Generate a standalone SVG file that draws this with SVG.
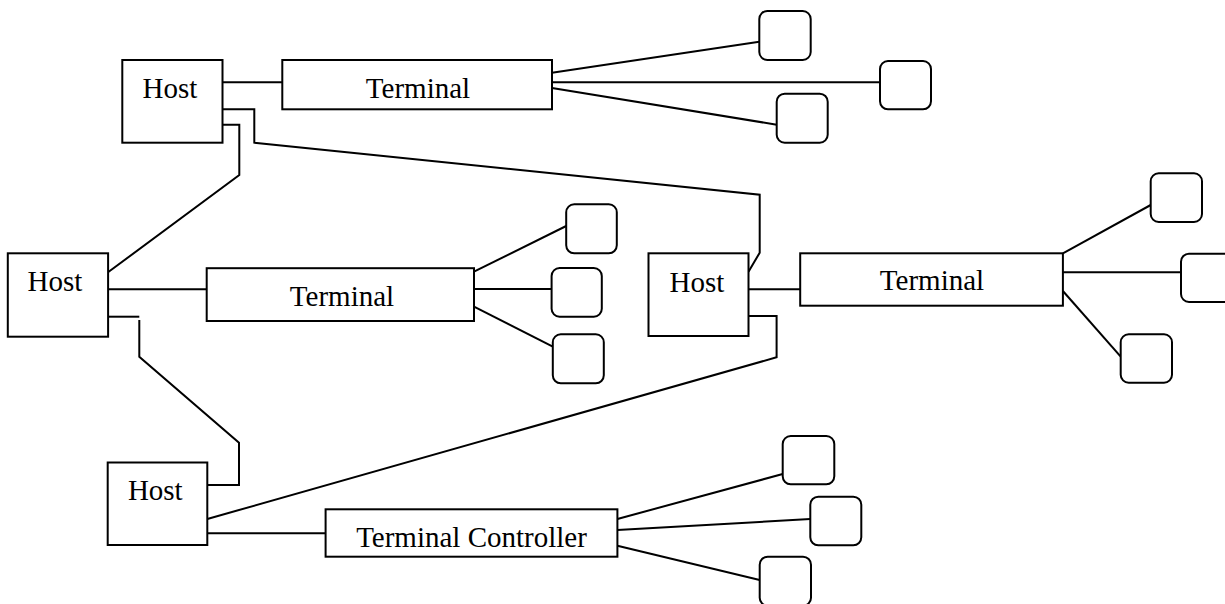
<svg xmlns="http://www.w3.org/2000/svg" width="1225" height="604" viewBox="0 0 1225 604">
  <style>
    .box { fill: #ffffff; stroke: #000000; stroke-width: 2; }
    .dev { fill: #ffffff; stroke: #000000; stroke-width: 2; }
    .wire { fill: none; stroke: #000000; stroke-width: 2; stroke-linejoin: miter; }
    .lbl { font-family: "Liberation Serif", "Times New Roman", serif; font-size: 29px; fill: #000000; text-anchor: middle; }
  </style>
  <rect width="1225" height="604" fill="#ffffff"/>

  <!-- connectors -->
  <g id="connectors">
    <!-- host to terminal links -->
    <line class="wire" x1="222.5" y1="82.3" x2="282.3" y2="82.3"/>
    <line class="wire" x1="108" y1="289.3" x2="206.7" y2="289.3"/>
    <line class="wire" x1="748.5" y1="289.3" x2="800.2" y2="289.3"/>
    <line class="wire" x1="207.3" y1="533.3" x2="325.6" y2="533.3"/>

    <!-- host to host links -->
    <polyline class="wire" points="222.5,109.3 254.3,109.3 254.3,142.7 759.7,194.7 759.7,252.7 748.5,271.7"/>
    <polyline class="wire" points="222.5,124.7 239.3,124.7 239.3,175 108,272.3"/>
    <polyline class="wire" points="748.5,316 776.6,316 776.6,357.3 207.3,519"/>
    <polyline class="wire" points="108,316.7 139.3,316.7"/>
    <polyline class="wire" points="139.3,320 139.3,356.7 239,442.7 239,485 207.3,485"/>

    <!-- terminal fan-out, top -->
    <line class="wire" x1="552" y1="72.7" x2="759.3" y2="41.7"/>
    <line class="wire" x1="552" y1="82.3" x2="880" y2="82.3"/>
    <line class="wire" x1="552" y1="88" x2="776.7" y2="124.7"/>

    <!-- terminal fan-out, left -->
    <line class="wire" x1="474" y1="271.7" x2="566.2" y2="226"/>
    <line class="wire" x1="474" y1="289" x2="551.6" y2="289"/>
    <line class="wire" x1="474" y1="306.7" x2="552.8" y2="346.7"/>

    <!-- terminal fan-out, right -->
    <line class="wire" x1="1062.9" y1="253.3" x2="1150.7" y2="205"/>
    <line class="wire" x1="1062.9" y1="272.3" x2="1181" y2="272.3"/>
    <line class="wire" x1="1062.9" y1="291" x2="1120.7" y2="356.7"/>

    <!-- controller fan-out -->
    <line class="wire" x1="617.4" y1="519" x2="782.7" y2="474"/>
    <line class="wire" x1="617.4" y1="530" x2="810.3" y2="519"/>
    <line class="wire" x1="617.4" y1="545.7" x2="759.7" y2="580"/>
  </g>

  <!-- hosts -->
  <g id="host-1">
    <rect class="box" x="122.3" y="60" width="100.2" height="82.7"/>
    <text class="lbl" x="170" y="98">Host</text>
  </g>
  <g id="host-2">
    <rect class="box" x="7.8" y="253.3" width="100.3" height="83.4"/>
    <text class="lbl" x="55" y="291">Host</text>
  </g>
  <g id="host-3">
    <rect class="box" x="648.5" y="253.3" width="100" height="82.7"/>
    <text class="lbl" x="697" y="292">Host</text>
  </g>
  <g id="host-4">
    <rect class="box" x="107.7" y="462.5" width="99.6" height="82.5"/>
    <text class="lbl" x="155.3" y="500">Host</text>
  </g>

  <!-- terminals -->
  <g id="terminal-1">
    <rect class="box" x="282.3" y="60" width="269.7" height="49.3"/>
    <text class="lbl" x="418" y="98">Terminal</text>
  </g>
  <g id="terminal-2">
    <rect class="box" x="206.7" y="268.2" width="267.3" height="52.8"/>
    <text class="lbl" x="342" y="306">Terminal</text>
  </g>
  <g id="terminal-3">
    <rect class="box" x="800.2" y="253.3" width="262.7" height="52.4"/>
    <text class="lbl" x="932" y="290">Terminal</text>
  </g>
  <g id="terminal-controller">
    <rect class="box" x="325.6" y="509.3" width="291.8" height="47.4"/>
    <text class="lbl" x="471.5" y="546.5">Terminal Controller</text>
  </g>

  <!-- attached devices -->
  <g id="device-1a"><rect class="dev" x="759.3" y="11" width="51.4" height="49" rx="8"/></g>
  <g id="device-1b"><rect class="dev" x="880" y="61" width="51" height="48.3" rx="8"/></g>
  <g id="device-1c"><rect class="dev" x="776.7" y="93.7" width="51" height="49" rx="8"/></g>

  <g id="device-2a"><rect class="dev" x="566.2" y="204.3" width="50.6" height="49" rx="8"/></g>
  <g id="device-2b"><rect class="dev" x="551.6" y="268" width="50.2" height="48.7" rx="8"/></g>
  <g id="device-2c"><rect class="dev" x="552.8" y="334.3" width="51" height="49" rx="8"/></g>

  <g id="device-3a"><rect class="dev" x="1150.7" y="173.3" width="51.3" height="48.7" rx="8"/></g>
  <g id="device-3b"><rect class="dev" x="1181" y="253.7" width="51" height="48.3" rx="8"/></g>
  <g id="device-3c"><rect class="dev" x="1120.7" y="334.3" width="51.3" height="48.4" rx="8"/></g>

  <g id="device-4a"><rect class="dev" x="782.7" y="436" width="51.6" height="48.3" rx="8"/></g>
  <g id="device-4b"><rect class="dev" x="810.3" y="496.7" width="51" height="48.6" rx="8"/></g>
  <g id="device-4c"><rect class="dev" x="759.7" y="556.7" width="51.3" height="49" rx="8"/></g>
</svg>
